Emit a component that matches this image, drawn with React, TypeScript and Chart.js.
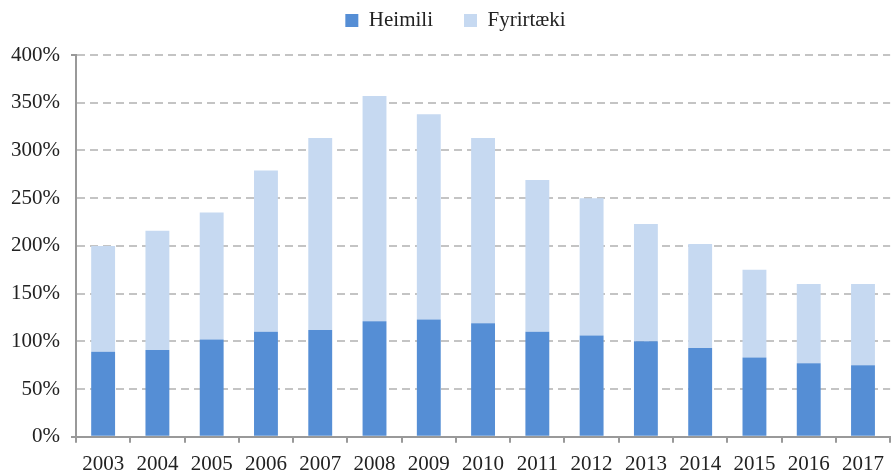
import React, { useEffect, useRef } from "react";
import { Chart, registerables } from "chart.js";

Chart.register(...registerables);

const years = ["2003", "2004", "2005", "2006", "2007", "2008", "2009", "2010", "2011", "2012", "2013", "2014", "2015", "2016", "2017"];
const heimili = [89, 91, 102, 110, 112, 121, 123, 119, 110, 106, 100, 93, 83, 77, 75];
const fyrirtaeki = [111, 125, 133, 169, 201, 236, 215, 194, 159, 144, 123, 109, 92, 83, 85];

const FONT = "'Liberation Serif', 'Times New Roman', serif";

const legendTweak = {
  id: "legendTweak",
  beforeInit(chart: any) {
    const legend = chart.legend;
    if (!legend) return;
    const origFit = legend.fit;
    legend.fit = function () {
      origFit.call(this);
      this.height += 14;
    };
    const origDraw = legend.draw;
    legend.draw = function () {
      const ctx = this.ctx;
      ctx.save();
      ctx.translate(9, 0);
      origDraw.call(this);
      ctx.restore();
    };
  },
};

export default function App() {
  const ref = useRef<HTMLCanvasElement | null>(null);

  useEffect(() => {
    if (!ref.current) return;
    const chart = new Chart(ref.current, {
      type: "bar",
      data: {
        labels: years,
        datasets: [
          {
            label: "Heimili",
            data: heimili,
            backgroundColor: "#558ED5",
            categoryPercentage: 1,
            barPercentage: 0.44,
          },
          {
            label: "Fyrirtæki",
            data: fyrirtaeki,
            backgroundColor: "#C6D9F1",
            categoryPercentage: 1,
            barPercentage: 0.44,
          },
        ],
      },
      options: {
        responsive: false,
        animation: false,
        layout: { padding: { left: 0, right: 0, top: 0, bottom: 0 } },
        plugins: {
          legend: {
            position: "top",
            labels: {
              boxWidth: 13,
              boxHeight: 13,
              padding: 10,
              color: "#222",
              font: { family: FONT, size: 21 },
              generateLabels: (c: any) => {
                const items = Chart.defaults.plugins.legend.labels.generateLabels(c);
                items.forEach((it: any, i: number) => {
                  if (i === 0) it.text = it.text + "    ";
                });
                return items;
              },
            },
          },
          tooltip: { enabled: false },
        },
        scales: {
          x: {
            stacked: true,
            grid: {
              drawOnChartArea: false,
              offset: true,
              tickLength: 6,
              color: "#999",
              lineWidth: 2,
            },
            border: { display: true, color: "#999", width: 2 },
            ticks: {
              color: "#222",
              padding: 9,
              maxRotation: 0,
              font: { family: FONT, size: 21 },
            },
          },
          y: {
            stacked: true,
            min: 0,
            max: 400,
            grid: {
              color: "#C4C4C4",
              lineWidth: 2,
              tickLength: 5,
              tickColor: (ctx: any) =>
                ctx.tick && (ctx.tick.value === 0 || ctx.tick.value === 400) ? "#999" : "rgba(0,0,0,0)",
            },
            border: { display: true, color: "#999", width: 2, dash: [8, 5] },
            ticks: {
              stepSize: 50,
              color: "#222",
              padding: 11,
              font: { family: FONT, size: 21 },
              callback: (v: any) => v + "%",
            },
          },
        },
      },
      plugins: [legendTweak],
    });
    return () => chart.destroy();
  }, []);

  return (
    <div style={{ position: "absolute", left: 0, top: 0, width: 893, height: 474, overflow: "hidden", background: "#fff" }}>
      <canvas ref={ref} width={893} height={486} style={{ display: "block" }} />
    </div>
  );
}
